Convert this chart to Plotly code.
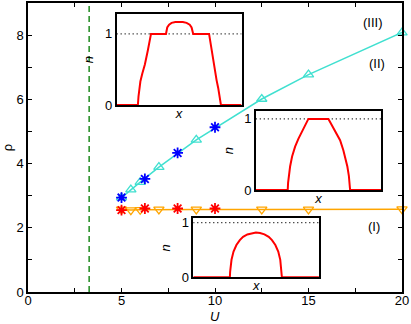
import plotly.graph_objects as go

# main panel: rho vs U
u_tri = [5, 5.5, 6, 7, 9, 12.5, 15, 20]
rho_phase2 = [2.94, 3.19, 3.42, 3.89, 4.74, 6.01, 6.77, 8.08]
rho_phase1 = [2.57, 2.55, 2.56, 2.57, 2.57, 2.57, 2.57, 2.58]
u_star = [5, 6.25, 8, 10]
rho_star2 = [2.94, 3.52, 4.33, 5.13]
rho_star1 = [2.55, 2.6, 2.6, 2.6]
u_crit = 3.27

x_ticks = [0, 2.5, 5, 7.5, 10, 12.5, 15, 17.5, 20]
x_labels = ["0", "", "5", "", "10", "", "15", "", "20"]
y_ticks = [0, 1, 2, 3, 4, 5, 6, 7, 8, 9]
y_labels = ["0", "", "2", "", "4", "", "6", "", "8", ""]

phase_labels = ["(III)", "(II)", "(I)"]
phase_u = [18.45, 18.65, 18.5]
phase_rho = [8.38, 7.11, 2.05]

# inset profiles n(x)
top_x = [0, 0.17, 0.175, 0.182, 0.19, 0.205, 0.226, 0.25, 0.275, 0.395, 0.398, 0.405, 0.42, 0.44,
         0.47, 0.5, 0.53, 0.56, 0.585, 0.60, 0.608, 0.613, 0.74, 0.757, 0.778, 0.80, 0.813,
         0.825, 0.832, 0.835, 1]
top_n = [0, 0, 0.12, 0.24, 0.33, 0.44, 0.57, 0.77, 1.0, 1.0, 1.05, 1.09, 1.13, 1.155,
         1.168, 1.17, 1.168, 1.155, 1.13, 1.09, 1.05, 1.0, 1.0, 0.8, 0.54, 0.35, 0.24,
         0.12, 0.05, 0, 0]
mid_x = [0, 0.255, 0.258, 0.264, 0.274, 0.29, 0.314, 0.34, 0.367, 0.395, 0.42, 0.58, 0.61, 0.646,
         0.673, 0.699, 0.716, 0.731, 0.743, 0.75, 0.753, 1]
mid_n = [0, 0, 0.1, 0.2, 0.33, 0.47, 0.61, 0.72, 0.82, 0.91, 1.0, 1.0, 0.9, 0.8,
         0.7, 0.56, 0.45, 0.33, 0.2, 0.1, 0, 0]
low_x = [0, 0.291, 0.293, 0.297, 0.304, 0.32, 0.343, 0.37, 0.396, 0.43, 0.465, 0.498,
         0.531, 0.566, 0.60, 0.626, 0.653, 0.676, 0.692, 0.699, 0.703, 0.705, 1]
low_n = [0, 0, 0.1, 0.2, 0.32, 0.47, 0.59, 0.68, 0.74, 0.785, 0.81, 0.82,
         0.81, 0.785, 0.74, 0.68, 0.59, 0.47, 0.32, 0.2, 0.1, 0, 0]

FONT = "Liberation Sans"
CYAN = "#40E0D0"
ORANGE = "#FFA500"

fig = go.Figure()

fig.add_trace(go.Scatter(x=u_tri, y=rho_phase2, mode="lines+markers", cliponaxis=False,
                         line=dict(color=CYAN, width=1.5),
                         marker=dict(symbol="triangle-up-open", size=9, color=CYAN, line=dict(width=1.3))))
fig.add_trace(go.Scatter(x=u_tri, y=rho_phase1, mode="lines+markers", cliponaxis=False,
                         line=dict(color=ORANGE, width=1.5),
                         marker=dict(symbol="triangle-down-open", size=9, color=ORANGE, line=dict(width=1.3))))
fig.add_trace(go.Scatter(x=u_star, y=rho_star2, mode="markers",
                         marker=dict(symbol="asterisk-open", size=9, color="blue",
                                     line=dict(color="blue", width=1.8))))
fig.add_trace(go.Scatter(x=u_star, y=rho_star1, mode="markers",
                         marker=dict(symbol="asterisk-open", size=9, color="red",
                                     line=dict(color="red", width=1.8))))

fig.add_vline(x=u_crit, line=dict(color="#1f8a1f", width=1.5, dash="6px,4px"))

for txt, u, r in zip(phase_labels, phase_u, phase_rho):
    fig.add_annotation(x=u, y=r, text=txt, showarrow=False, font=dict(size=13, color="black"))

# x axis title placed as annotation just under the tick labels
fig.add_annotation(x=0.5, y=-0.085, xref="paper", yref="paper", text="<i>U</i>",
                   showarrow=False, yanchor="middle", font=dict(size=13, color="black"))

# insets
insets = [(top_x, top_n, "x2", "y2"), (mid_x, mid_n, "x3", "y3"), (low_x, low_n, "x4", "y4")]
for xs, ns, xa, ya in insets:
    fig.add_trace(go.Scatter(x=[0, 1], y=[1, 1], mode="lines", xaxis=xa, yaxis=ya,
                             line=dict(color="black", width=1.3, dash="1px,3px")))
    fig.add_trace(go.Scatter(x=xs, y=ns, mode="lines", xaxis=xa, yaxis=ya,
                             line=dict(color="red", width=2)))

axis_common = dict(showline=True, linecolor="black", linewidth=1.5, mirror="allticks",
                   ticks="inside", ticklen=4, tickwidth=1, tickcolor="black", automargin=False,
                   showgrid=False, zeroline=False, tickfont=dict(size=13, color="black"))
inset_x = dict(showline=True, linecolor="black", linewidth=1.5, mirror=True, showgrid=False,
               zeroline=False, range=[0, 1], showticklabels=False, ticks="", automargin=False,
               title=dict(text="<i>x</i>", font=dict(size=13, color="black"), standoff=3))
inset_y = dict(showline=True, linecolor="black", linewidth=1.5, mirror=True, showgrid=False,
               zeroline=False, ticks="", tickvals=[0, 1], ticktext=["0", "1"], automargin=False,
               tickfont=dict(size=13, color="black"),
               title=dict(text="<i>n</i>", font=dict(size=13, color="black"), standoff=8))

fig.update_layout(
    width=411, height=324,
    margin=dict(l=28, r=9, t=3, b=32),
    paper_bgcolor="white", plot_bgcolor="white",
    showlegend=False,
    hovermode=False,
    font=dict(family=FONT, size=13, color="black"),
    xaxis=dict(axis_common, range=[0, 20], tickvals=x_ticks, ticktext=x_labels,
               ticklabelstandoff=-4),
    yaxis=dict(axis_common, range=[0, 9], tickvals=y_ticks, ticktext=y_labels,
               title=dict(text="ρ", standoff=6, font=dict(size=13))),
    xaxis2=dict(inset_x, domain=[0.237, 0.571], anchor="y2"),
    yaxis2=dict(inset_y, domain=[0.647, 0.962], range=[0, 1.28], anchor="x2"),
    xaxis3=dict(inset_x, domain=[0.609, 0.944], anchor="y3"),
    yaxis3=dict(inset_y, domain=[0.353, 0.626], range=[0, 1.11], anchor="x3"),
    xaxis4=dict(inset_x, domain=[0.442, 0.778], anchor="y4"),
    yaxis4=dict(inset_y, domain=[0.051, 0.255], range=[0, 1.08], anchor="x4"),
)

fig.write_html("out.html", config={"displayModeBar": False},
               post_script="document.body.style.margin='0';")
